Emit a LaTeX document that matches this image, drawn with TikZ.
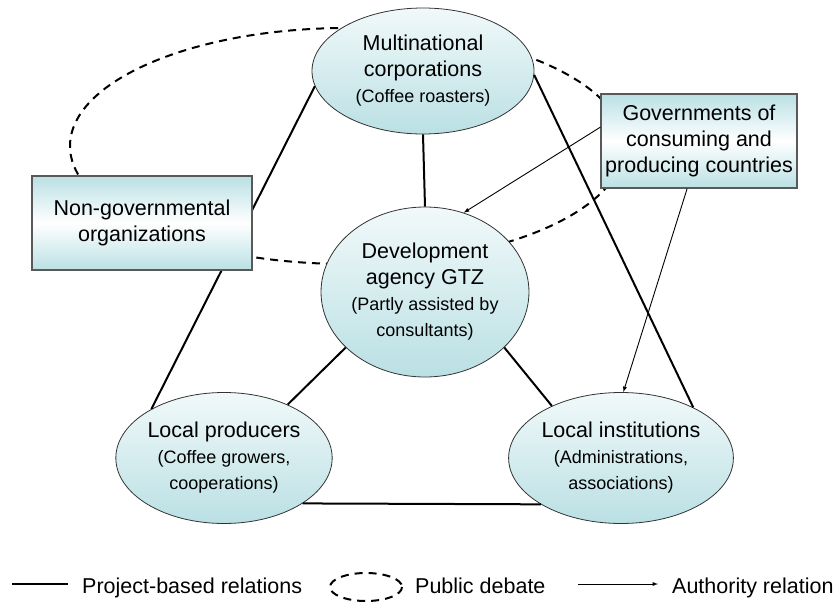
\documentclass[tikz,border=0pt]{standalone}
\usepackage{fontspec}
\setmainfont{Liberation Sans}
\usetikzlibrary{shapes.geometric}
\definecolor{paleblue}{RGB}{186,224,228}
\newcommand\mainsize{\fontsize{21.5}{26}\selectfont}
\newcommand\subline[1]{{\fontsize{18}{22}\selectfont #1}}
\tikzset{
  actor/.style={ellipse, draw=black!80, line width=.8pt, top color=paleblue!20,
    bottom color=paleblue, align=center, inner sep=0pt, font=\mainsize},
  agency/.style={rectangle, draw=black!65, line width=1.2pt, top color=paleblue,
    bottom color=paleblue, middle color=white, align=center, inner sep=0pt, font=\mainsize},
  project/.style={line width=2pt},
  debate/.style={line width=2pt, dash pattern=on 8pt off 6pt},
  authority/.style={->, line width=.9pt},
  legendtext/.style={anchor=base west, inner sep=0pt, font=\mainsize},
}
\begin{document}
\begin{tikzpicture}[>=latex, x=1pt, y=-1pt]
\useasboundingbox (0,0) rectangle (839,603);
% public debate ring
\draw[debate] (347,146) ellipse [x radius=277, y radius=118];
% actors
\node[actor, minimum width=222, minimum height=126] (multi) at (423,71)
  {Multinational\\corporations\\\subline{(Coffee roasters)}};
\node[actor, minimum width=188, minimum height=170] (gtz) at (425,292)
  {Development\\agency GTZ\\\subline{(Partly assisted by}\\\subline{consultants)}};
\node[actor, minimum width=212, minimum height=131] (prod) at (224,458)
  {Local producers\\\subline{(Coffee growers,}\\\subline{cooperations)}};
\node[actor, minimum width=216, minimum height=131] (inst) at (621,458)
  {Local institutions\\\subline{(Administrations,}\\\subline{associations)}};
% project-based relations
\draw[project] (multi.south) -- (gtz.north);
\draw[project] (multi.188) -- (prod.146);
\draw[project] (multi.-2) -- (inst.35);
\draw[project] (gtz.215) -- (prod.40);
\draw[project] (gtz.-35) -- (inst.143);
\draw[project] (prod.-30) -- (inst.210);
% other actors
\node[agency, minimum width=220, minimum height=94] (ngo) at (142,223)
  {Non-governmental\\organizations};
\node[agency, minimum width=196, minimum height=94] (gov) at (699,141)
  {Governments of\\consuming and\\producing countries};
% authority relations
\draw[authority] (gov.172) -- (gtz.64);
\draw[authority] (gov.256) -- (inst.88);
% legend
\coordinate (projA) at (12,584);
\coordinate (projB) at (68,584);
\draw[project] (projA) -- (projB);
\node[legendtext] (projtext) at (82,593) {Project-based relations};
\draw[debate] (366,587) ellipse [x radius=36, y radius=14];
\node[legendtext] (debtext) at (415,593) {Public debate};
\coordinate (authA) at (578,584);
\coordinate (authB) at (658,584);
\draw[authority] (authA) -- (authB);
\node[legendtext] (authtext) at (672,593) {Authority relation};
\end{tikzpicture}
\end{document}
